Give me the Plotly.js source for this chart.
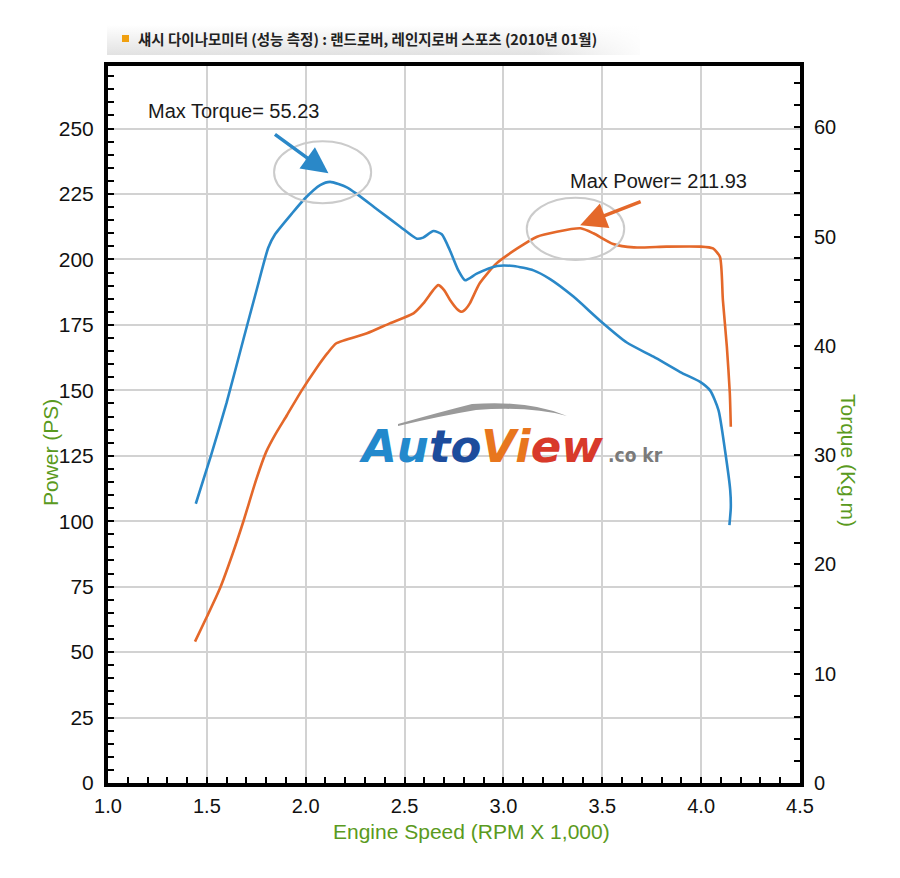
<!DOCTYPE html>
<html>
<head>
<meta charset="utf-8">
<script src="https://cdn.plot.ly/plotly-3.0.1.min.js"></script>
<style>html,body{margin:0;padding:0;background:#fff;}#chart{width:900px;height:878px;}</style>
</head>
<body>
<div id="chart"></div>
<script>
// ---- Data ----
const rpmPower = [1.44,1.50,1.567,1.63,1.685,1.75,1.80,1.845,1.905,1.98,2.05,2.11,2.155,2.31,2.425,2.545,2.595,2.645,2.67,2.70,2.73,2.765,2.79,2.81,2.83,2.88,2.965,3.07,3.17,3.27,3.39,3.455,3.555,3.66,3.825,3.995,4.06,4.095,4.11,4.13,4.145,4.15];
const powerPS = [54.0,63.5,74.5,87.5,100.0,116.0,126.5,133.0,140.5,150.0,158.0,164.2,168.0,171.8,175.6,179.4,183.2,188.3,190.2,188.3,184.5,181.1,180.0,181.1,183.2,190.9,198.5,204.2,208.7,210.6,211.9,210.0,205.9,204.6,204.9,204.9,204.2,201.0,184.5,166.7,148.9,136.1];

const rpmTorque = [1.444,1.52,1.60,1.685,1.753,1.811,1.845,1.93,1.997,2.073,2.123,2.208,2.258,2.36,2.478,2.562,2.594,2.646,2.688,2.73,2.772,2.806,2.865,2.967,3.051,3.152,3.236,3.354,3.489,3.624,3.759,3.894,3.995,4.046,4.088,4.121,4.147,4.150,4.143];
const torqueKgm = [25.55,29.9,34.8,40.6,45.2,49.0,50.2,52.1,53.5,54.7,55.0,54.5,53.9,52.5,50.9,49.8,49.9,50.5,50.2,48.7,46.9,46.0,46.6,47.3,47.3,46.9,46.1,44.5,42.3,40.3,39.0,37.6,36.7,35.9,34.1,30.4,26.8,25.2,23.6];

const xTickLabels = ['1.0','1.5','2.0','2.5','3.0','3.5','4.0','4.5'];
const xTickVals = [1.0,1.5,2.0,2.5,3.0,3.5,4.0,4.5];

const titleText = '섀시 다이나모미터 (성능 측정) : 랜드로버, 레인지로버 스포츠 (2010년 01월)';
const maxTorqueLabel = 'Max Torque= 55.23';
const maxPowerLabel = 'Max Power= 211.93';
const xTitle = 'Engine Speed (RPM X 1,000)';
const yTitle = 'Power (PS)';
const y2Title = 'Torque (Kg.m)';

// ---- Styling ----
const GREEN = '#5a9a20';
const BLUE = '#2a88c8';
const ORANGE = '#e4682a';
const GRID = '#d2d2d2';
const TICKFONT = 'Liberation Sans, Arial, sans-serif';
const TEXTFONT = 'Liberation Sans, Arial, sans-serif';

// plot area in pixels: left 108, right 800, top 66, bottom 783
const L = 108, R = 800, T = 66, B = 783;
function px(x){ return (x - L) / (R - L); }
function py(y){ return (B - y) / (B - T); }

const traces = [
  {x: rpmPower, y: powerPS, type:'scatter', mode:'lines', yaxis:'y',
   line:{color:ORANGE, width:2.6, shape:'spline', smoothing:0.6}, hoverinfo:'skip', showlegend:false},
  {x: rpmTorque, y: torqueKgm, type:'scatter', mode:'lines', yaxis:'y2',
   line:{color:BLUE, width:2.6, shape:'spline', smoothing:0.6}, hoverinfo:'skip', showlegend:false}
];

const barSvg = "<svg xmlns='http://www.w3.org/2000/svg' width='533' height='29' preserveAspectRatio='none'>" +
  "<defs><linearGradient id='g' x1='0' y1='0' x2='0' y2='1'><stop offset='0' stop-color='#ffffff'/><stop offset='1' stop-color='#e2e2e2'/></linearGradient>" +
  "<linearGradient id='h' x1='0' y1='0' x2='1' y2='0'><stop offset='0.8' stop-color='#ffffff' stop-opacity='0'/><stop offset='1' stop-color='#ffffff' stop-opacity='0.9'/></linearGradient></defs>" +
  "<rect width='533' height='29' fill='url(#g)'/><rect width='533' height='29' fill='url(#h)'/></svg>";

const layout = {
  width: 900, height: 878,
  margin: {l: L, r: 900 - R, t: T, b: 878 - B, pad: 0},
  paper_bgcolor: '#ffffff', plot_bgcolor: '#ffffff',
  showlegend: false,
  xaxis: {
    range: [1, 4.5], tickvals: xTickVals, ticktext: xTickLabels,
    showgrid: true, gridcolor: GRID, gridwidth: 2,
    ticks: 'inside', ticklen: 6, tickwidth: 2, tickcolor: '#000',
    minor: {dtick: 0.1, tick0: 1, ticks: 'inside', ticklen: 6, tickwidth: 2, tickcolor: '#000', showgrid: false},
    showline: true, linewidth: 4, linecolor: '#000', mirror: true, zeroline: false,
    tickfont: {family: TICKFONT, size: 20, color: '#111'}, ticklabelstandoff: 2,
    fixedrange: true
  },
  yaxis: {
    range: [0, 273.9], dtick: 25, tick0: 0,
    showgrid: true, gridcolor: GRID, gridwidth: 2,
    ticks: 'inside', ticklen: 6, tickwidth: 2, tickcolor: '#000',
    minor: {dtick: 5, tick0: 0, ticks: 'inside', ticklen: 6, tickwidth: 2, tickcolor: '#000', showgrid: false},
    showline: true, linewidth: 4, linecolor: '#000', mirror: true, zeroline: false,
    tickfont: {family: TICKFONT, size: 21, color: '#111'}, ticklabelstandoff: 6,
    fixedrange: true
  },
  yaxis2: {
    range: [0, 65.6], dtick: 10, tick0: 0, overlaying: 'y', side: 'right',
    showgrid: false,
    ticks: 'inside', ticklen: 6, tickwidth: 2, tickcolor: '#000',
    minor: {dtick: 2, tick0: 0, ticks: 'inside', ticklen: 6, tickwidth: 2, tickcolor: '#000', showgrid: false},
    showline: true, linewidth: 4, linecolor: '#000', zeroline: false,
    tickfont: {family: TICKFONT, size: 20, color: '#111'}, ticklabelstandoff: 6,
    fixedrange: true
  },
  images: [{
    source: 'data:image/svg+xml;charset=utf-8,' + encodeURIComponent(barSvg),
    xref: 'paper', yref: 'paper', x: px(107), y: py(25), sizex: 533/(R-L), sizey: 30/(B-T),
    xanchor: 'left', yanchor: 'top', sizing: 'stretch', layer: 'below'
  }],
  shapes: [
    // orange bullet of the heading
    {type:'rect', xref:'paper', yref:'paper', x0:px(122), x1:px(129), y0:py(42), y1:py(35),
     fillcolor:'#f0a010', line:{width:0}},
    // highlight ellipses
    {type:'circle', xref:'x', yref:'y', x0:1.840, x1:2.331, y0:221.5, y1:245.2,
     line:{color:'#cbcbcb', width:2}},
    {type:'circle', xref:'x', yref:'y', x0:3.118, x1:3.611, y0:199.8, y1:223.6,
     line:{color:'#cbcbcb', width:2}},
    // watermark swoosh
    {type:'path', xref:'paper', yref:'paper', fillcolor:'#9a9a9a', line:{width:0},
     path: 'M ' + px(398) + ' ' + py(424) +
           ' Q ' + px(440) + ' ' + py(412) + ' ' + px(472) + ' ' + py(404) +
           ' Q ' + px(530) + ' ' + py(400) + ' ' + px(567) + ' ' + py(416) +
           ' Q ' + px(530) + ' ' + py(406) + ' ' + px(476) + ' ' + py(410) +
           ' Q ' + px(440) + ' ' + py(416) + ' ' + px(398) + ' ' + py(426) + ' Z'}
  ],
  annotations: [
    {text: '<b>' + titleText + '</b>', xref:'paper', yref:'paper', x:px(136), y:py(39),
     xanchor:'left', yanchor:'middle', showarrow:false,
     font:{family:'Noto Sans CJK KR, sans-serif', size:14.5, color:'#222'}},
    {text: maxTorqueLabel, xref:'x', yref:'y', x:1.635, y:256.7, showarrow:false,
     xanchor:'center', yanchor:'middle', font:{family:TEXTFONT, size:20, color:'#1a1a1a'}},
    {text: maxPowerLabel, xref:'x', yref:'y', x:3.785, y:229.9, showarrow:false,
     xanchor:'center', yanchor:'middle', font:{family:TEXTFONT, size:20, color:'#1a1a1a'}},
    // arrows
    {text:'', xref:'x', yref:'y', x:2.115, y:232.9, ax:-55, ay:-40, showarrow:true,
     arrowhead:2, arrowsize:1.5, arrowwidth:3.5, arrowcolor:BLUE, standoff:0},
    {text:'', xref:'x', yref:'y', x:3.388, y:213.1, ax:62, ay:-24, showarrow:true,
     arrowhead:2, arrowsize:1.5, arrowwidth:3.5, arrowcolor:ORANGE, standoff:0},
    // axis titles
    {text: xTitle, xref:'paper', yref:'paper', x:px(471.5), y:py(831), showarrow:false,
     xanchor:'center', yanchor:'middle', font:{family:TEXTFONT, size:21, color:GREEN}},
    {text: yTitle, xref:'paper', yref:'paper', x:px(50), y:py(453), showarrow:false, textangle:-90,
     xanchor:'center', yanchor:'middle', font:{family:TEXTFONT, size:21, color:GREEN}},
    {text: y2Title, xref:'paper', yref:'paper', x:px(849), y:py(460), showarrow:false, textangle:90,
     xanchor:'center', yanchor:'middle', font:{family:TEXTFONT, size:21, color:GREEN}},
    // watermark logo
    {text: "<b><i><span style='color:#2389cc'>Au</span><span style='color:#1d4c9c'>to</span><span style='color:#e8761e'>Vi</span><span style='color:#d8392a'>ew</span></i></b>",
     xref:'paper', yref:'paper', x:px(357), y:py(446), xanchor:'left', yanchor:'middle', showarrow:false,
     font:{family:'DejaVu Sans, sans-serif', size:45, color:'#2389cc'}},
    {text: "<b>.co kr</b>", xref:'paper', yref:'paper', x:px(606), y:py(455), xanchor:'left', yanchor:'middle', showarrow:false,
     font:{family:'DejaVu Sans Condensed, DejaVu Sans, sans-serif', size:19, color:'#7a7a7a'}}
  ]
};

Plotly.newPlot('chart', traces, layout, {displayModeBar:false, staticPlot:true});
</script>
</body>
</html>
